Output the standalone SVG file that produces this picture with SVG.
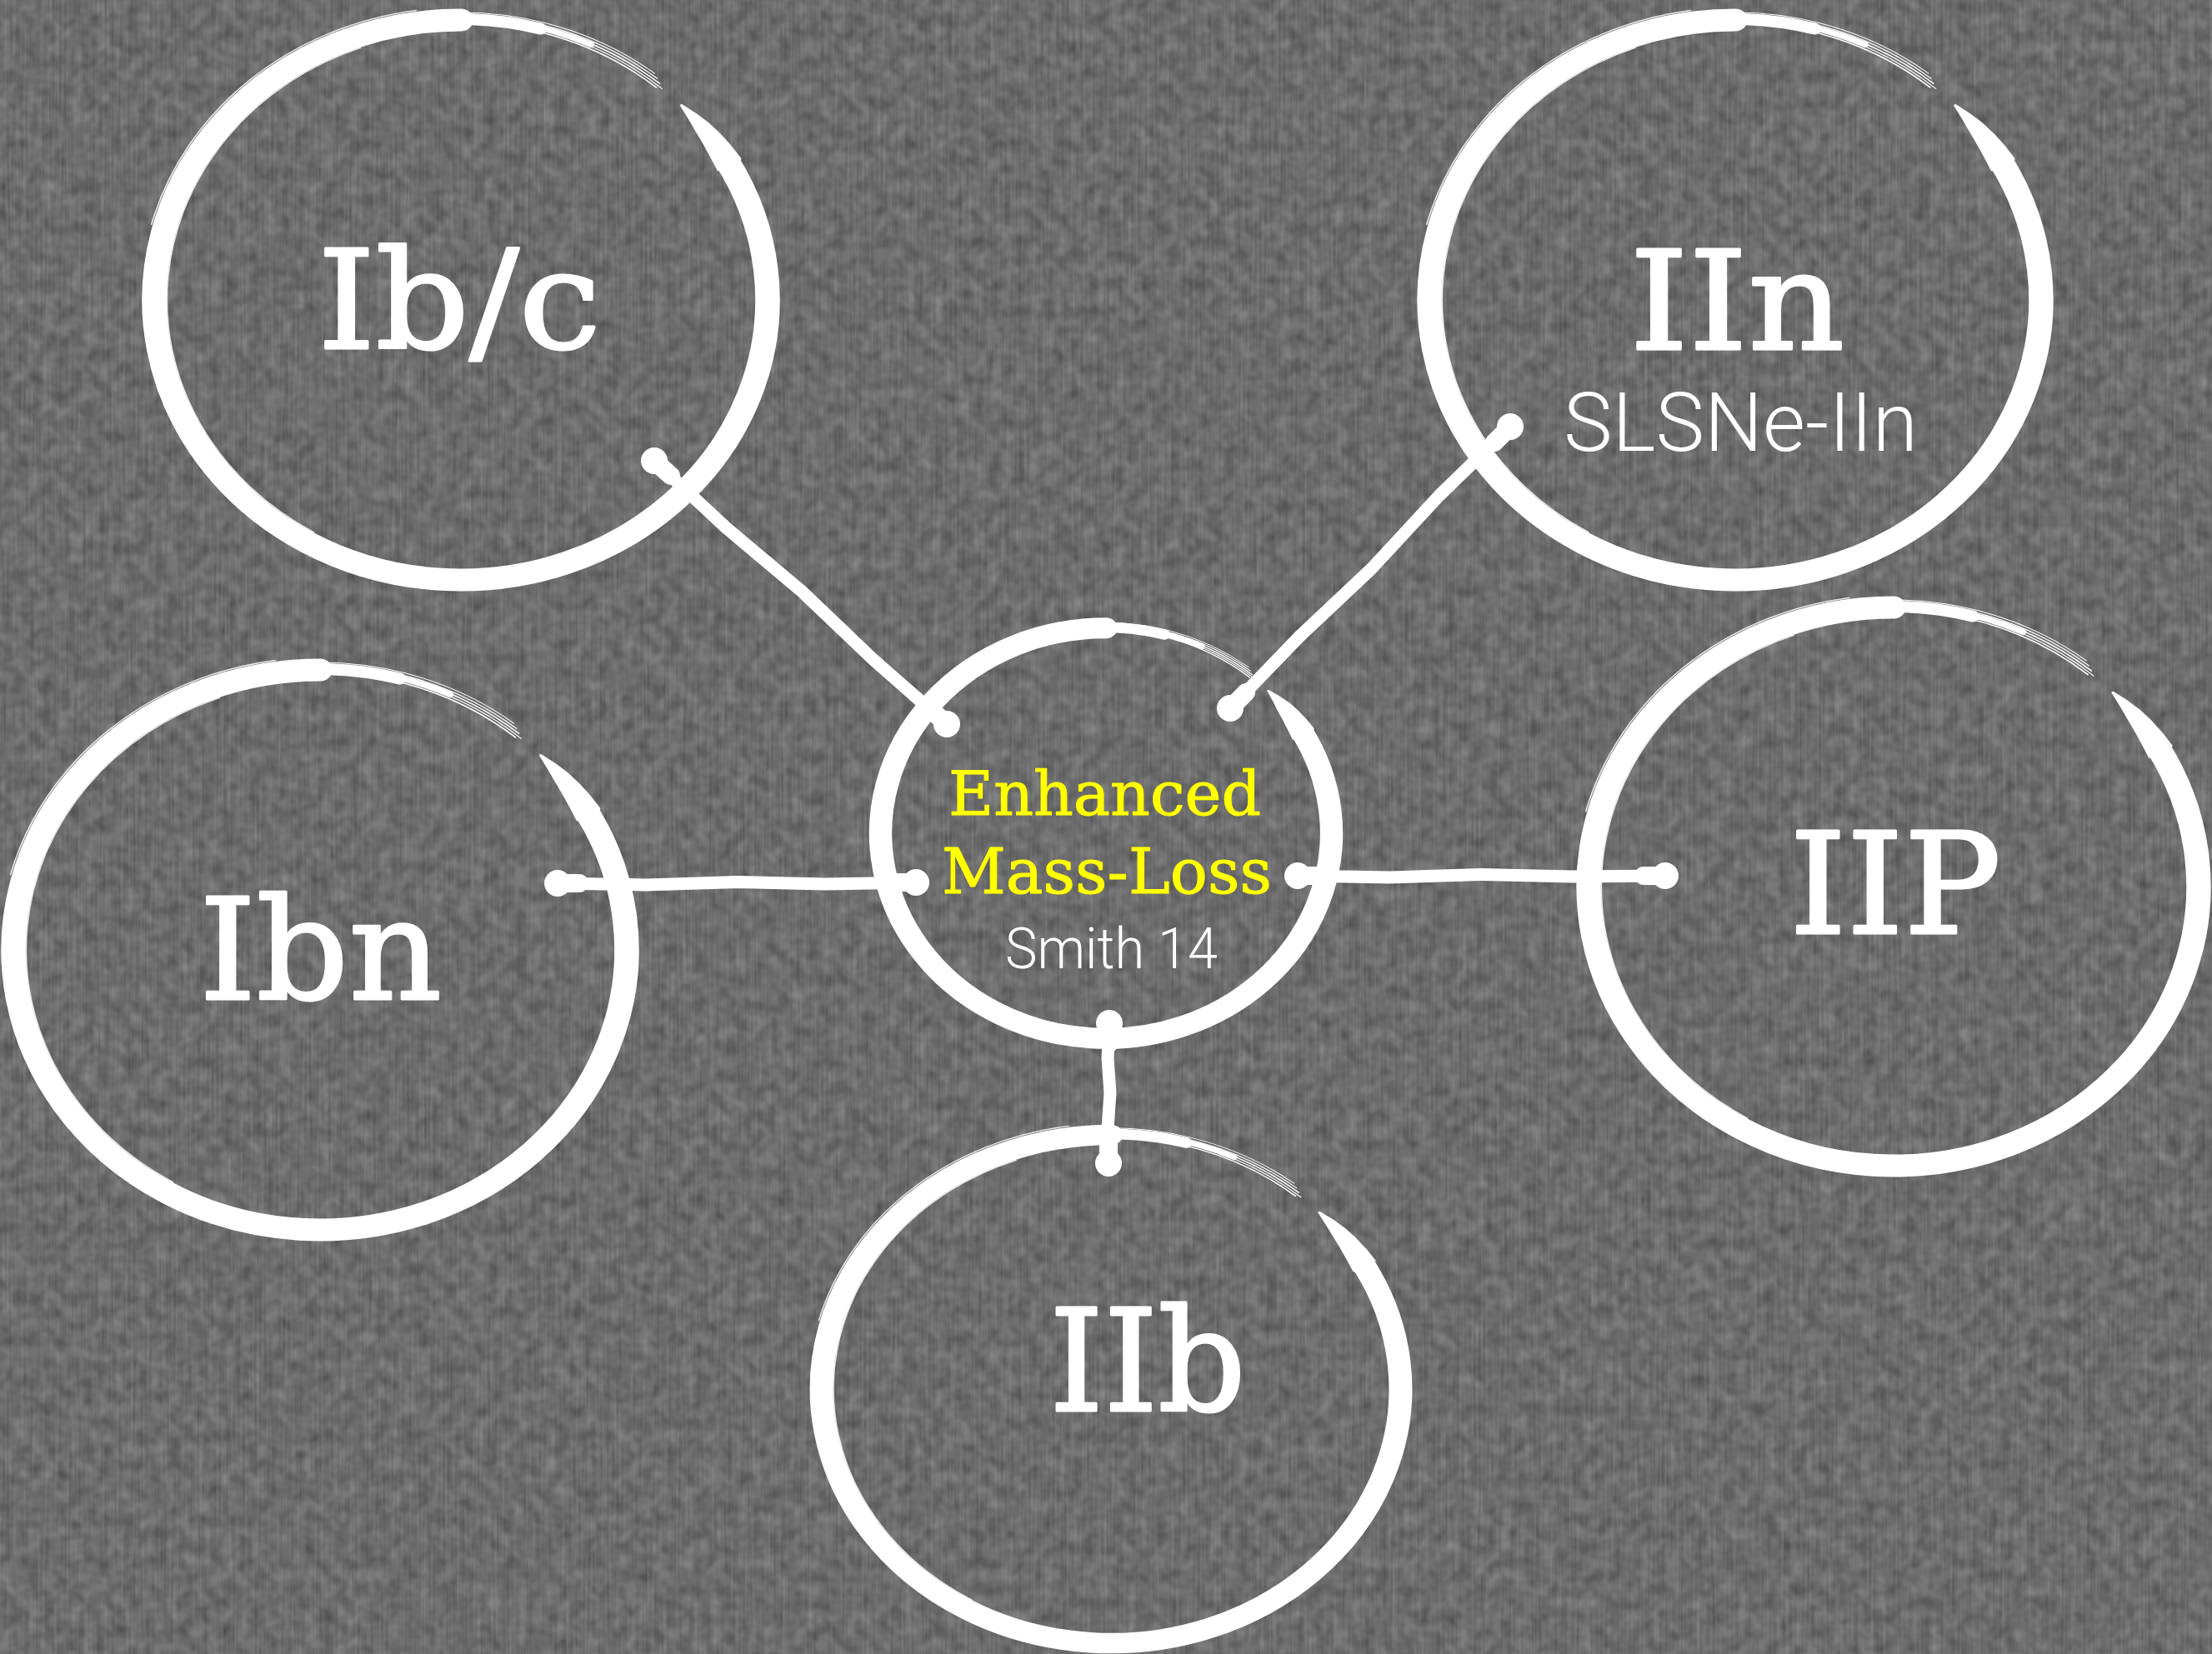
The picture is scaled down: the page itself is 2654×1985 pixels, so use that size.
<svg xmlns="http://www.w3.org/2000/svg" xmlns:xlink="http://www.w3.org/1999/xlink" width="2654" height="1985" viewBox="0 0 2654 1985">
<style>
.brush{fill:none;stroke:#fff;stroke-linecap:round}
.tip{fill:#fff;stroke:#fff;stroke-width:3;stroke-linejoin:round}
.type{font-family:"DejaVu Serif","Liberation Serif",serif;fill:#fff;stroke:#fff;stroke-width:3;stroke-linejoin:round}
.sans{font-family:Roboto,Inter,"Liberation Sans",sans-serif;font-weight:300;fill:#fff}
.yel{fill:#ffff00;stroke:#ffff00;stroke-width:1}
.conn{fill:none;stroke:#fff;stroke-linecap:round;stroke-linejoin:round}
.dot{fill:#fff}
</style>
<defs>
<filter id="linen" x="0" y="0" width="100%" height="100%" color-interpolation-filters="sRGB">
<feTurbulence type="fractalNoise" baseFrequency="0.35 0.01" numOctaves="1" seed="2" result="n1"/>
<feTurbulence type="fractalNoise" baseFrequency="0.06" numOctaves="2" seed="7" result="n2"/>
<feComposite in="n1" in2="n2" operator="arithmetic" k1="0" k2="0.35" k3="0.65" k4="0" result="n"/>
<feColorMatrix in="n" type="matrix" values="0.34 0 0 0 0.255  0.34 0 0 0 0.255  0.34 0 0 0 0.255  0 0 0 0 1"/>
</filter>
<g id="ring">
<path class="brush" stroke-width="27" d="M291.0 -168.0 A336 336 0 1 1 0 -336"/>
<path class="tip" d="M241.7 -233.4 L256.6 -223.1 L270.7 -211.5 L283.4 -198.5 L295.1 -184.4 L305.7 -169.4 L282.1 -156.3 L274.8 -171.7 L267.1 -187.0 L258.9 -202.3 L250.6 -217.8 Z"/>
<path class="brush" stroke-width="14" d="M11.8 -336.8 A337 337 0 0 1 87.2 -325.5"/>
<path class="brush" stroke-width="7" d="M58.7 -332.9 A338 338 0 0 1 142.8 -306.3"/>
<path class="brush" stroke-width="1.5" d="M-29.0 -331.7 A333 333 0 0 1 214.1 -255.1"/>
<path class="brush" stroke-width="1.2" d="M-29.3 -334.7 A336 336 0 0 1 220.4 -253.6"/>
<path class="brush" stroke-width="1.5" d="M-29.6 -337.7 A339 339 0 0 1 217.9 -259.7"/>
<path class="brush" stroke-width="1.2" d="M-29.8 -340.7 A342 342 0 0 1 215.2 -265.8"/>
<path class="brush" stroke-width="1" d="M-42.1 -342.4 A345 345 0 0 1 212.4 -271.9"/>
<path class="brush" stroke-width="1.5" opacity="0.85" d="M-161 278.9 A322 322 0 0 1 -110.1 -302.6"/>
<path class="brush" stroke-width="1.5" opacity="0.85" d="M-339.0 -90.8 A351 351 0 0 1 -48.9 -347.6"/>
</g>
<g id="ringC">
<path class="brush" stroke-width="34" d="M291.0 -168.0 A336 336 0 1 1 0 -336"/>
<path class="tip" d="M241.7 -233.4 L257.4 -223.7 L272.3 -212.7 L285.5 -199.9 L297.6 -186.0 L308.7 -171.1 L279.0 -154.7 L272.2 -170.1 L265.0 -185.6 L257.3 -201.0 L249.8 -217.2 Z"/>
<path class="brush" stroke-width="17" d="M11.8 -336.8 A337 337 0 0 1 87.2 -325.5"/>
<path class="brush" stroke-width="9" d="M58.7 -332.9 A338 338 0 0 1 142.8 -306.3"/>
<path class="brush" stroke-width="1.8" d="M-29.0 -331.7 A333 333 0 0 1 214.1 -255.1"/>
<path class="brush" stroke-width="1.5" d="M-29.3 -334.7 A336 336 0 0 1 220.4 -253.6"/>
<path class="brush" stroke-width="1.8" d="M-29.6 -337.7 A339 339 0 0 1 217.9 -259.7"/>
<path class="brush" stroke-width="1.5" d="M-29.8 -340.7 A342 342 0 0 1 215.2 -265.8"/>
<path class="brush" stroke-width="1.2" d="M-42.1 -342.4 A345 345 0 0 1 212.4 -271.9"/>
<path class="brush" stroke-width="1.8" opacity="0.85" d="M-161 278.9 A318 318 0 0 1 -110.1 -302.6"/>
</g>
</defs>

<rect width="2654" height="1985" fill="#6a6a6a"/>
<rect width="2654" height="1985" filter="url(#linen)"/>

<g id="connectors">
<path class="conn" stroke-width="15" d="M785 553 L871.4 633.5 L961.8 709.5 L1047.3 791.1 L1136 869"/>
<path class="conn" stroke-width="22" d="M785 553 L805 571"/>
<path class="conn" stroke-width="22" d="M1136 869 L1116 851"/>
<circle class="dot" cx="785" cy="553" r="16"/>
<circle class="dot" cx="1136" cy="869" r="16"/>

<path class="conn" stroke-width="15" d="M1812 512 L1726.5 595 L1645.5 682.5 L1559 764 L1476 850"/>
<path class="conn" stroke-width="22" d="M1812 512 L1793 531"/>
<path class="conn" stroke-width="22" d="M1476 850 L1495 831"/>
<circle class="dot" cx="1812" cy="512" r="16"/>
<circle class="dot" cx="1476" cy="850" r="16"/>

<path class="conn" stroke-width="15" d="M669 1060 L775 1062 L885 1058.5 L990 1061 L1099 1059"/>
<path class="conn" stroke-width="22" d="M669 1060 L695 1060"/>
<path class="conn" stroke-width="22" d="M1099 1059 L1073 1059"/>
<circle class="dot" cx="669" cy="1060" r="16"/>
<circle class="dot" cx="1099" cy="1059" r="16"/>

<path class="conn" stroke-width="15" d="M1557 1051 L1667 1053 L1777 1049.5 L1888 1052 L1998 1051"/>
<path class="conn" stroke-width="22" d="M1557 1051 L1583 1051"/>
<path class="conn" stroke-width="22" d="M1998 1051 L1972 1051"/>
<circle class="dot" cx="1557" cy="1051" r="16"/>
<circle class="dot" cx="1998" cy="1051" r="16"/>

<path class="conn" stroke-width="15" d="M1331 1228 L1329 1270 L1332 1312 L1329 1354 L1330 1396"/>
<path class="conn" stroke-width="22" d="M1331 1228 L1331 1252"/>
<path class="conn" stroke-width="22" d="M1330 1396 L1330 1372"/>
<circle class="dot" cx="1331" cy="1228" r="16"/>
<circle class="dot" cx="1330" cy="1396" r="16"/>
</g>

<g id="node-ibc">
<use xlink:href="#ring" href="#ring" transform="translate(553 360) scale(1.095 1.0)"/>
<text class="type" x="381" y="418" font-size="165" textLength="340" lengthAdjust="spacingAndGlyphs">Ib/c</text>
</g>

<g id="node-iin">
<use xlink:href="#ring" href="#ring" transform="translate(2082 360) scale(1.092 1.0)"/>
<text class="type" x="1955" y="419" font-size="165" textLength="258" lengthAdjust="spacingAndGlyphs">IIn</text>
<text class="sans" x="1876" y="541" font-size="98" textLength="425" lengthAdjust="spacingAndGlyphs">SLSNe-IIn</text>
</g>

<g id="node-ibn">
<use xlink:href="#ring" href="#ring" transform="translate(384 1140) scale(1.095 1.0)"/>
<text class="type" x="239" y="1199" font-size="168" textLength="291" lengthAdjust="spacingAndGlyphs">Ibn</text>
</g>

<g id="node-iip">
<use xlink:href="#ring" href="#ring" transform="translate(2272 1064) scale(1.089 0.997)"/>
<text class="type" x="2147" y="1120" font-size="168" textLength="254" lengthAdjust="spacingAndGlyphs">IIP</text>
</g>

<g id="node-iib">
<use xlink:href="#ring" href="#ring" transform="translate(1333 1667) scale(1.034 0.908)"/>
<text class="type" x="1259" y="1693" font-size="170" textLength="236" lengthAdjust="spacingAndGlyphs">IIb</text>
</g>

<g id="node-center">
<use xlink:href="#ringC" href="#ringC" transform="translate(1327 1000) scale(0.805 0.733)"/>
<text class="type yel" x="1138" y="978" font-size="73" textLength="375" lengthAdjust="spacingAndGlyphs">Enhanced</text>
<text class="type yel" x="1130" y="1072" font-size="74" textLength="396" lengthAdjust="spacingAndGlyphs">Mass-Loss</text>
<text class="sans" x="1206" y="1162" font-size="68" textLength="255" lengthAdjust="spacingAndGlyphs">Smith 14</text>
</g>
</svg>
